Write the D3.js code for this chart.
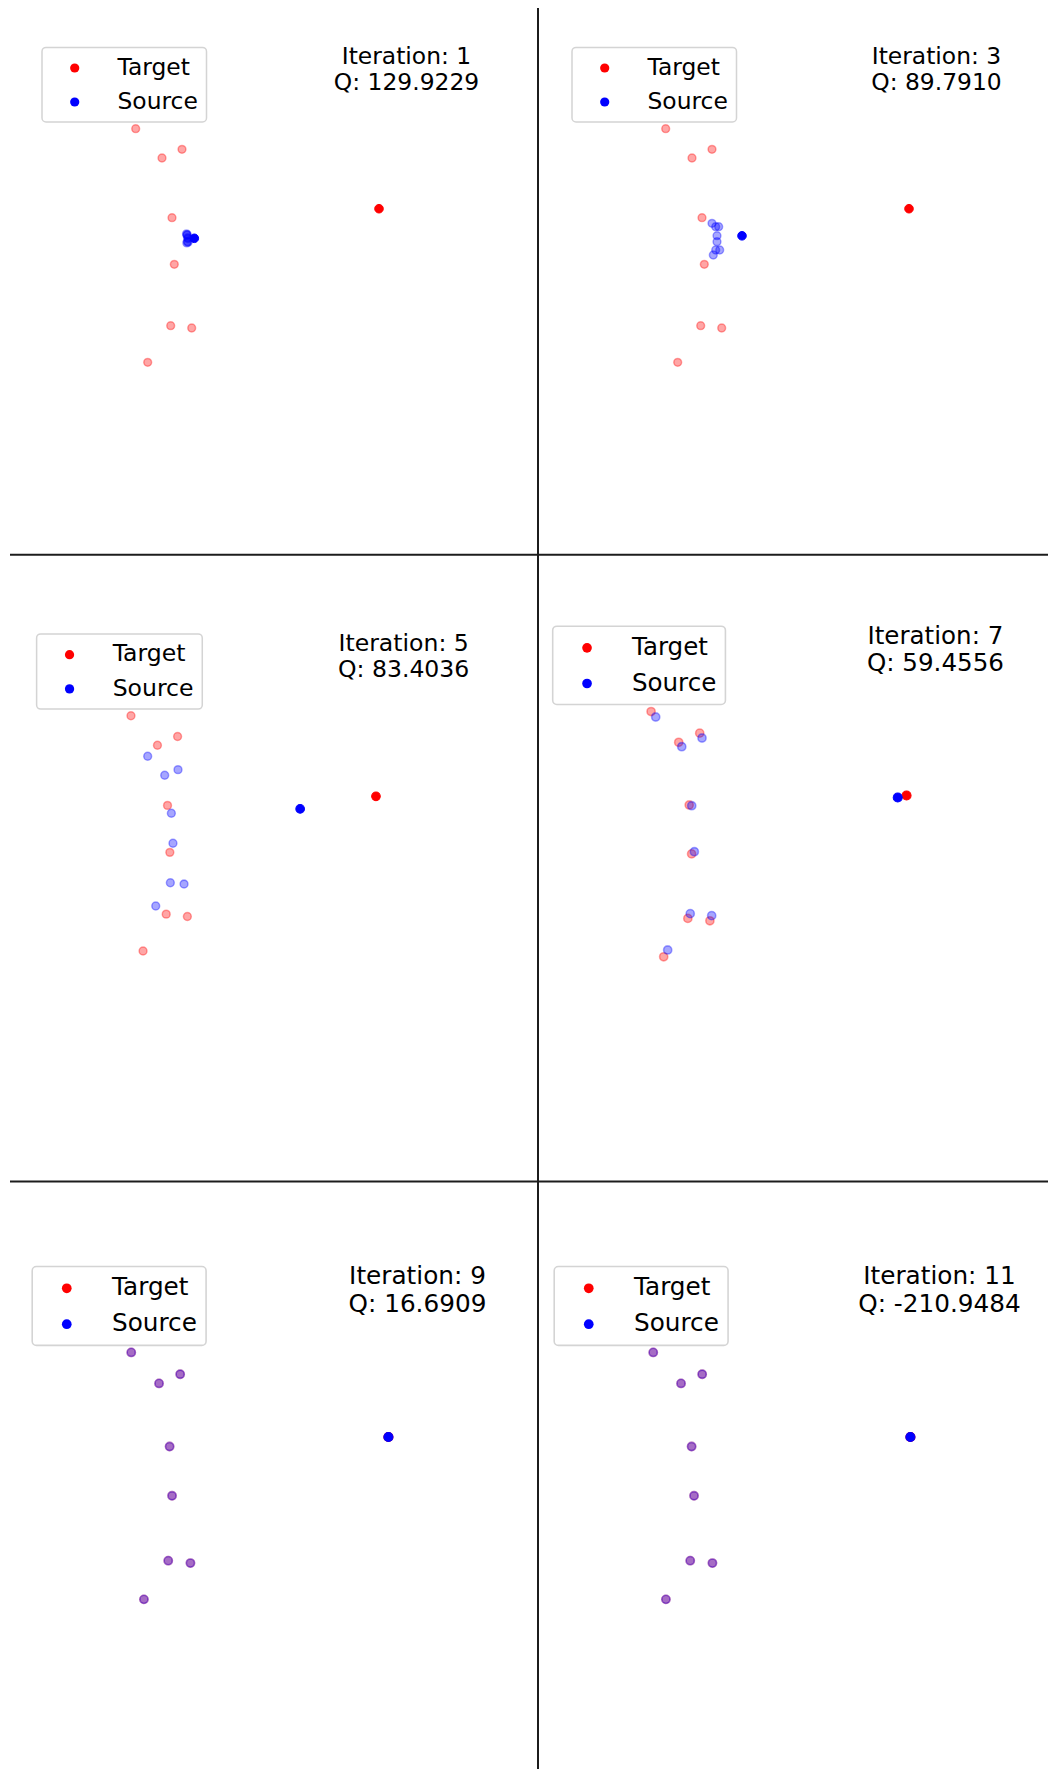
<!DOCTYPE html>
<html>
<head>
<meta charset="utf-8">
<script src="https://cdn.jsdelivr.net/npm/d3@7"></script>
<style>
  html, body { margin: 0; padding: 0; background: #ffffff; }
  svg { display: block; }
  text { font-family: "DejaVu Sans", sans-serif; fill: #000; }
</style>
</head>
<body>
<div id="chart"></div>
<script>
// ---- data -------------------------------------------------------------
const iterations = [1, 3, 5, 7, 9, 11];
const qValues = [129.9229, 89.7910, 83.4036, 59.4556, 16.6909, -210.9484];

// target cloud (last point is the highlighted one)
const targetX = [-3.43, 1.20, -0.80, 0.20, 0.43, 0.07, 2.17, -2.23, 20.90];
const targetY = [11.13, 9.07, 8.20, 2.23, -2.43, -8.57, -8.80, -12.23, 3.13];

// source cloud at each shown iteration
const source1X = [1.65, 1.72, 1.69, 1.78, 1.80, 1.74, 1.81, 1.68, 2.43];
const source1Y = [0.62, 0.54, 0.48, 0.24, 0.14, -0.16, -0.22, -0.29, 0.17];
const source3X = [1.20, 1.57, 1.87, 1.70, 1.70, 1.57, 1.97, 1.33, 4.20];
const source3Y = [1.67, 1.33, 1.33, 0.43, -0.17, -1.00, -1.00, -1.50, 0.42];
const source5X = [-1.77, 1.24, -0.08, 0.58, 0.74, 0.48, 1.84, -0.97, 13.37];
const source5Y = [7.11, 5.78, 5.22, 1.45, -1.53, -5.45, -5.58, -7.76, 1.88];
const source7X = [-2.99, 1.42, -0.51, 0.44, 0.69, 0.30, 2.34, -1.85, 20.06];
const source7Y = [10.61, 8.61, 7.78, 2.16, -2.22, -8.12, -8.31, -11.58, 2.94];
const source9X = [-3.43, 1.20, -0.80, 0.20, 0.43, 0.07, 2.17, -2.23, 20.90];
const source9Y = [11.13, 9.07, 8.20, 2.23, -2.43, -8.57, -8.80, -12.23, 3.13];
const source11X = [-3.43, 1.20, -0.80, 0.20, 0.43, 0.07, 2.17, -2.23, 20.90];
const source11Y = [11.13, 9.07, 8.20, 2.23, -2.43, -8.57, -8.80, -12.23, 3.13];

const sourcesX = [source1X, source3X, source5X, source7X, source9X, source11X];
const sourcesY = [source1Y, source3Y, source5Y, source7Y, source9Y, source11Y];

const legendLabels = ["Target", "Source"];

// ---- layout -----------------------------------------------------------
const W = 1048, H = 1769;
const highlightIndex = 8;
const faded = 0.35;
const colors = { Target: "#ff0000", Source: "#0000ff" };

// placement of each panel on the page (offset + uniform scale)
const panelPlacement = [
  { tx: 0,      ty: 0,       s: 1.000 },
  { tx: 530,    ty: 0,       s: 1.000 },
  { tx: -5.68,  ty: 586.18,  s: 1.007 },
  { tx: 508.6,  ty: 576.4,   s: 1.050 },
  { tx: -12.19, ty: 1216.4,  s: 1.057 },
  { tx: 509.8,  ty: 1216.4,  s: 1.057 }
];

const svg = d3.select("#chart").append("svg")
  .attr("width", W).attr("height", H)
  .attr("viewBox", `0 0 ${W} ${H}`);

svg.append("rect").attr("width", W).attr("height", H).attr("fill", "#fff");

// shared data -> panel coordinates
const x = d3.scaleLinear().domain([-17, 36]).range([0, 530]);
const y = d3.scaleLinear().domain([-30.5, 24]).range([545, 0]);

function drawCloud(g, xs, ys, color) {
  const pts = xs.map((v, i) => ({ x: v, y: ys[i], hl: i === highlightIndex }));
  g.selectAll(null).data(pts).enter().append("circle")
    .attr("cx", d => x(d.x))
    .attr("cy", d => y(d.y))
    .attr("r", d => d.hl ? 4.3 : 3.9)
    .attr("fill", color)
    .attr("fill-opacity", d => d.hl ? 1 : faded)
    .attr("stroke", color)
    .attr("stroke-opacity", d => d.hl ? 1 : faded)
    .attr("stroke-width", d => d.hl ? 1 : 1.5);
}

iterations.forEach((it, p) => {
  const pl = panelPlacement[p];
  const g = svg.append("g")
    .attr("transform", `translate(${pl.tx},${pl.ty}) scale(${pl.s})`);

  drawCloud(g, targetX, targetY, colors.Target);
  drawCloud(g, sourcesX[p], sourcesY[p], colors.Source);

  // legend
  const lg = g.append("g").attr("class", "legend");
  lg.append("rect")
    .attr("x", 42).attr("y", 47.4)
    .attr("width", 164.5).attr("height", 74.6)
    .attr("rx", 4).attr("ry", 4)
    .attr("fill", "#fff").attr("fill-opacity", 0.8)
    .attr("stroke", "#d4d4d4").attr("stroke-width", 1.5);
  legendLabels.forEach((lab, i) => {
    const cy = 68 + i * 34;
    lg.append("circle")
      .attr("cx", 74.7).attr("cy", cy).attr("r", 4.6)
      .attr("fill", colors[lab]);
    lg.append("text")
      .attr("x", 117.5).attr("y", cy + 6.8)
      .attr("font-size", 23.4)
      .text(lab);
  });

  // iteration / Q annotation
  const t = g.append("text")
    .attr("text-anchor", "middle")
    .attr("font-size", 23.4);
  t.append("tspan").attr("x", 406.5).attr("y", 64.3).text(`Iteration: ${it}`);
  t.append("tspan").attr("x", 406.5).attr("y", 90.3).text(`Q: ${qValues[p].toFixed(4)}`);
});

// panel dividers
const dividers = svg.append("g").attr("stroke", "#1c1c1c").attr("stroke-width", 2);
dividers.append("line").attr("x1", 538).attr("x2", 538).attr("y1", 8).attr("y2", H);
dividers.append("line").attr("x1", 10).attr("x2", W).attr("y1", 554.8).attr("y2", 554.8);
dividers.append("line").attr("x1", 10).attr("x2", W).attr("y1", 1181.5).attr("y2", 1181.5);
</script>
</body>
</html>
